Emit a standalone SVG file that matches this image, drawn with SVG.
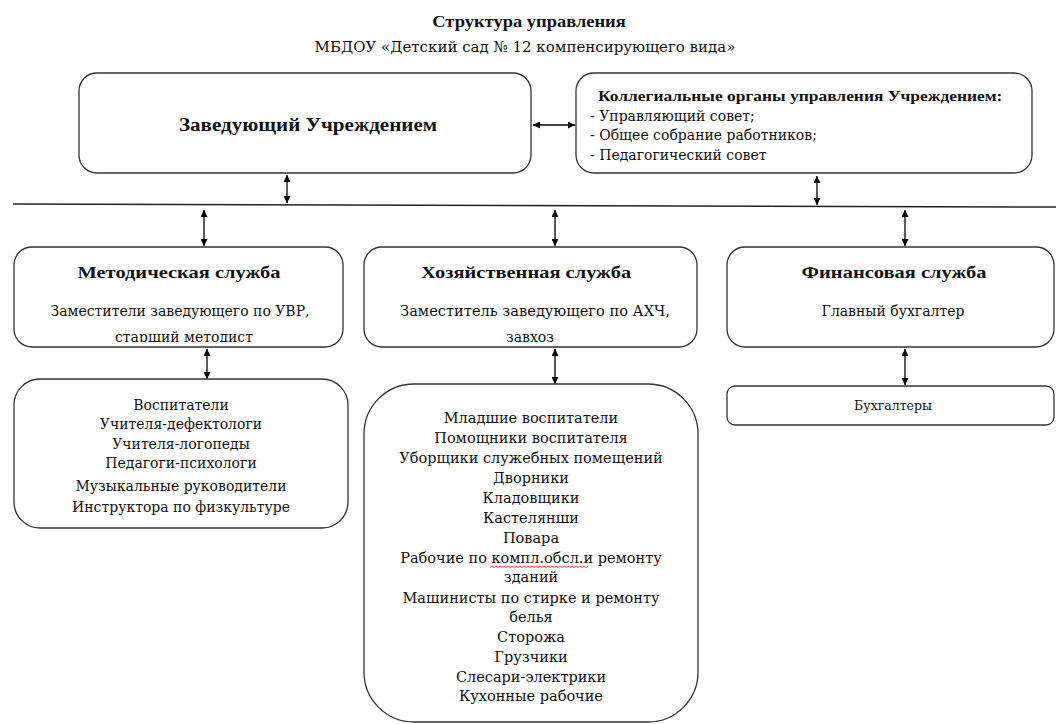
<svg xmlns="http://www.w3.org/2000/svg" width="1056" height="724" viewBox="0 0 1056 724">
<defs>
<marker id="ah" viewBox="0 0 10 10" refX="10" refY="5" markerWidth="7" markerHeight="7" markerUnits="userSpaceOnUse" orient="auto-start-reverse">
<path d="M0,0 L10,5 L0,10 z" fill="#000"/>
</marker>
<clipPath id="clipM"><rect x="14" y="247" width="329" height="95"/></clipPath>
<style>
text{fill:#111;text-anchor:middle;}
.t{font-size:15.8px;font-weight:bold;}
.h{font-size:18px;font-weight:bold;}
.s{font-size:17.5px;font-weight:bold;}
.lb{font-size:14.9px;font-weight:bold;text-anchor:start;}
.st{font-size:15px;}
.b{font-size:14px;}
.bh{font-size:14.6px;}
.i{font-size:14px;}
.k{font-size:14.5px;}
.acc{font-size:12.5px;}
.l{font-size:14px;text-anchor:start;}
.box{fill:#fff;stroke:#333;stroke-width:1.3;}
.c{stroke:#000;stroke-width:1.3;fill:none;marker-start:url(#ah);marker-end:url(#ah);}
</style>
</defs>
<rect width="1056" height="724" fill="#fff"/>
<g id="title">
<text class="t" font-family="'Liberation Serif', serif" transform="translate(529,27) scale(1.17,1)">Структура управления</text>
<text class="st" font-family="'DejaVu Serif', serif" x="525" y="52">МБДОУ «Детский сад № 12 компенсирующего вида»</text>
</g>
<g id="connectors">
<line x1="13" y1="204" x2="1056" y2="207" stroke="#222" stroke-width="1.5"/>
<line class="c" x1="533" y1="125" x2="575" y2="125"/>
<line class="c" x1="287" y1="175" x2="287" y2="203"/>
<line class="c" x1="817" y1="176" x2="817" y2="205"/>
<line class="c" x1="204" y1="210" x2="204" y2="246"/>
<line class="c" x1="555" y1="210" x2="555" y2="246"/>
<line class="c" x1="905" y1="210" x2="905" y2="246"/>
<line class="c" x1="207" y1="349" x2="207" y2="379"/>
<line class="c" x1="555" y1="349" x2="555" y2="384"/>
<line class="c" x1="905" y1="349" x2="905" y2="385"/>
</g>
<g id="head">
<rect class="box" x="79" y="73" width="452" height="100" rx="18"/>
<text class="h" font-family="'Liberation Serif', serif" transform="translate(308,131) scale(1.17,1)">Заведующий Учреждением</text>
</g>
<g id="collegial">
<rect class="box" x="576" y="73" width="456" height="100" rx="18"/>
<text class="lb" font-family="'Liberation Serif', serif" transform="translate(598,101) scale(1.17,1)">Коллегиальные органы управления Учреждением:</text>
<g font-family="'DejaVu Serif', serif">
<text class="l" x="590" y="121">- Управляющий совет;</text>
<text class="l" x="590" y="140">- Общее собрание работников;</text>
<text class="l" x="590" y="160">- Педагогический совет</text>
</g>
</g>
<g id="method">
<rect class="box" x="14" y="247" width="329" height="100" rx="18"/>
<text class="s" font-family="'Liberation Serif', serif" transform="translate(179,278) scale(1.17,1)">Методическая служба</text>
<g font-family="'DejaVu Serif', serif">
<text class="b" x="180" y="316">Заместители заведующего по УВР,</text>
<text class="b" clip-path="url(#clipM)" x="184" y="342">старший методист</text>
</g>
</g>
<g id="household">
<rect class="box" x="364" y="247" width="333" height="100" rx="18"/>
<text class="s" font-family="'Liberation Serif', serif" transform="translate(526,278) scale(1.17,1)">Хозяйственная служба</text>
<g font-family="'DejaVu Serif', serif">
<text class="bh" x="535" y="316">Заместитель заведующего по АХЧ,</text>
<text class="b" x="530" y="342">завхоз</text>
</g>
</g>
<g id="finance">
<rect class="box" x="727" y="247" width="327" height="100" rx="18"/>
<text class="s" font-family="'Liberation Serif', serif" transform="translate(894,278) scale(1.17,1)">Финансовая служба</text>
<text class="b" font-family="'DejaVu Serif', serif" x="893" y="316">Главный бухгалтер</text>
</g>
<g id="teachers" font-family="'DejaVu Serif', serif">
<rect class="box" x="14" y="379" width="334" height="149" rx="26"/>
<text class="i" x="181" y="410">Воспитатели</text>
<text class="i" x="181" y="429">Учителя-дефектологи</text>
<text class="i" x="181" y="449">Учителя-логопеды</text>
<text class="i" x="181" y="468">Педагоги-психологи</text>
<text class="i" x="181" y="491">Музыкальные руководители</text>
<text class="i" x="181" y="512">Инструктора по физкультуре</text>
</g>
<g id="staff" font-family="'DejaVu Serif', serif">
<rect class="box" x="364" y="384" width="334" height="338" rx="50"/>
<text class="k" x="531" y="423">Младшие воспитатели</text>
<text class="k" x="531" y="443">Помощники воспитателя</text>
<text class="k" x="531" y="463">Уборщики служебных помещений</text>
<text class="k" x="531" y="483">Дворники</text>
<text class="k" x="531" y="503">Кладовщики</text>
<text class="k" x="531" y="523">Кастелянши</text>
<text class="k" x="531" y="543">Повара</text>
<text class="k" x="531" y="563">Рабочие по компл.обсл.и ремонту</text>
<path d="M490,567.5 l2,-1.5 l2,1.5 l2,-1.5 l2,1.5 l2,-1.5 l2,1.5 l2,-1.5 l2,1.5 l2,-1.5 l2,1.5 l2,-1.5 l2,1.5 l2,-1.5 l2,1.5 l2,-1.5 l2,1.5 l2,-1.5 l2,1.5 l2,-1.5 l2,1.5 l2,-1.5 l2,1.5 l2,-1.5 l2,1.5 l2,-1.5 l2,1.5 l2,-1.5 l2,1.5 l2,-1.5 l2,1.5 l2,-1.5 l2,1.5 l2,-1.5 l2,1.5 l2,-1.5 l2,1.5 l2,-1.5 l2,1.5 l2,-1.5 l2,1.5 l2,-1.5 l2,1.5 l2,-1.5 l2,1.5 l2,-1.5 l2,1.5 l2,-1.5 l2,1.5 l2,-1.5" fill="none" stroke="#e03030" stroke-width="0.9"/>
<text class="k" x="531" y="582">зданий</text>
<text class="k" x="531" y="603">Машинисты по стирке и ремонту</text>
<text class="k" x="531" y="622">белья</text>
<text class="k" x="531" y="642">Сторожа</text>
<text class="k" x="531" y="662">Грузчики</text>
<text class="k" x="531" y="682">Слесари-электрики</text>
<text class="k" x="531" y="701">Кухонные рабочие</text>
</g>
<g id="accountants">
<rect class="box" x="727" y="386" width="327" height="39" rx="8"/>
<text class="acc" font-family="'DejaVu Serif', serif" x="893" y="410">Бухгалтеры</text>
</g>
</svg>
